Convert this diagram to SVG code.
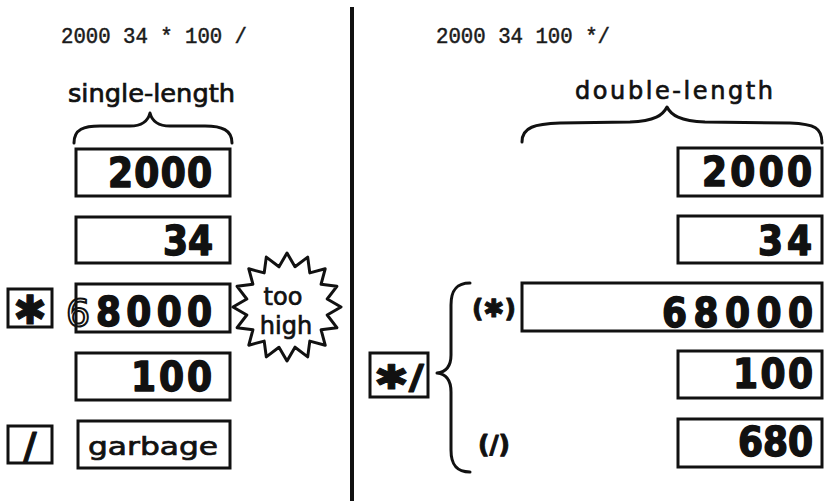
<svg xmlns="http://www.w3.org/2000/svg" width="825" height="501" viewBox="0 0 825 501">
<style>
.code{font-family:"Liberation Mono",monospace;font-size:22px;fill:#1a1a1a;stroke:#1a1a1a;stroke-width:0.5}
.hand{font-family:"DejaVu Sans","Noto Sans",sans-serif;font-size:24px;fill:#111;stroke:#111;stroke-width:0.7}
.box{fill:#fff;stroke:#111;stroke-width:3}
.num{font-family:"DejaVu Sans Condensed","DejaVu Sans",sans-serif;font-weight:bold;font-size:40px;fill:#111;stroke:#111;stroke-width:1.4;stroke-linejoin:round}
.line{fill:none;stroke:#111;stroke-width:3;stroke-linecap:round;stroke-linejoin:round}
.sym{font-family:"DejaVu Sans",sans-serif;font-weight:bold;fill:#111;stroke:#111;stroke-width:1;stroke-linejoin:round}
</style>
<rect width="825" height="501" fill="#fff"/>
<line x1="352" y1="7" x2="352" y2="501" stroke="#111" stroke-width="4"/>

<g id="left-side">
  <text class="code" x="61" y="43" textLength="186" lengthAdjust="spacingAndGlyphs">2000 34 * 100 /</text>
  <text class="hand" x="68" y="102" textLength="167" lengthAdjust="spacingAndGlyphs">single-length</text>
  <path class="line" d="M74,143 C74,129 84,126 100,126 L130,126 C142,126 148,121 150,113 C152,121 158,126 170,126 L205,126 C222,126 232,130 232,143"/>
</g>

<g id="l-2000"><rect class="box" x="76" y="149" width="154" height="47"/><text class="num" x="108" y="187" textLength="104" lengthAdjust="spacing">2000</text></g>
<g id="l-34"><rect class="box" x="76" y="217" width="154" height="46"/><text class="num" x="163" y="255" textLength="50" lengthAdjust="spacing">34</text></g>
<g id="l-star"><rect class="box" x="8" y="289" width="44" height="38"/><text class="sym" x="30" y="324" font-size="40" text-anchor="middle">✱</text></g>
<g id="l-68000"><rect class="box" x="76" y="284" width="154" height="48"/><text class="num" x="96" y="326" textLength="116" lengthAdjust="spacing">8000</text><text x="66" y="326" font-family="DejaVu Sans,sans-serif" font-size="38" fill="none" stroke="#111" stroke-width="2">6</text></g>
<g id="too-high">
  <polygon class="line" fill="#fff" points="341,307 327.2,315 336.9,327.7 321.1,329.8 325.2,345.2 309.8,341.1 307.7,356.9 295,347.2 287,361 279,347.2 266.3,356.9 264.2,341.1 248.8,345.2 252.9,329.8 237.1,327.7 246.8,315 233,307 246.8,299 237.1,286.3 252.9,284.2 248.8,268.8 264.2,272.9 266.3,257.1 279,266.8 287,253 295,266.8 307.7,257.1 309.8,272.9 325.2,268.8 321.1,284.2 336.9,286.3 327.2,299"/>
  <text class="hand" x="283" y="305" font-size="30" stroke-width="1.2" text-anchor="middle">too</text>
  <text class="hand" x="286" y="334" font-size="29" stroke-width="1.2" text-anchor="middle">high</text>
</g>
<g id="l-100"><rect class="box" x="76" y="353" width="154" height="47"/><text class="num" x="131" y="391" textLength="81" lengthAdjust="spacing">100</text></g>
<g id="l-slash"><rect class="box" x="8" y="426" width="44" height="37"/><text class="sym" x="30" y="458" font-size="36" stroke-width="2" text-anchor="middle">/</text></g>
<g id="l-garbage"><rect class="box" x="78" y="421" width="152" height="47"/><text class="hand" x="88" y="455" font-size="34" stroke-width="1" textLength="130" lengthAdjust="spacingAndGlyphs">garbage</text></g>

<g id="right-side">
  <text class="code" x="436" y="43" textLength="174" lengthAdjust="spacingAndGlyphs">2000 34 100 */</text>
  <text class="hand" x="575" y="99" font-size="25" textLength="198" lengthAdjust="spacing">double-length</text>
  <path class="line" d="M522,142 C522,127 535,124 560,123 L630,122 C655,121 663,115 667,107 C671,115 680,121 705,122 L790,123 C815,124 822,128 822,143"/>
</g>

<g id="r-2000"><rect class="box" x="678" y="148" width="144" height="48"/><text class="num" x="702" y="186" textLength="110" lengthAdjust="spacing">2000</text></g>
<g id="r-34"><rect class="box" x="678" y="216" width="144" height="47"/><text class="num" x="758" y="255" textLength="54" lengthAdjust="spacing">34</text></g>
<g id="r-starslash"><rect class="box" x="370" y="353" width="58" height="44"/><text class="sym" x="399" y="389" font-size="34" text-anchor="middle" textLength="50" lengthAdjust="spacingAndGlyphs">✱/</text></g>
<g id="r-brace"><path class="line" d="M470,283 C455,283 451,292 451,305 L451,355 C451,367 446,372 437,373 C446,374 451,380 451,392 L451,450 C451,464 456,472 470,472"/></g>
<g id="r-68000"><text class="sym" x="494" y="317" font-size="25" text-anchor="middle">(✱)</text><rect class="box" x="522" y="283" width="300" height="48"/><text class="num" x="662" y="327" textLength="151" lengthAdjust="spacing">68000</text></g>
<g id="r-100"><rect class="box" x="678" y="351" width="144" height="47"/><text class="num" x="733" y="388" textLength="80" lengthAdjust="spacing">100</text></g>
<g id="r-680"><text class="sym" x="494" y="453" font-size="25" text-anchor="middle">(/)</text><rect class="box" x="678" y="419" width="144" height="48"/><text class="num" x="738" y="456" textLength="75" lengthAdjust="spacing">680</text></g>
</svg>
